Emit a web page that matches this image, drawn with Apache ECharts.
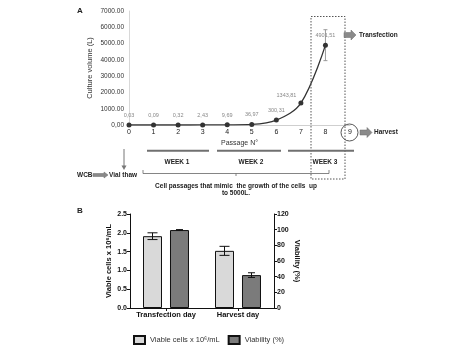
<!DOCTYPE html>
<html><head><meta charset="utf-8">
<script src="https://cdn.jsdelivr.net/npm/echarts@6/dist/echarts.min.js"></script>
<style>html,body{margin:0;padding:0;background:#fff}#c{width:474px;height:349px}</style>
</head><body><div id="c"></div>
<script>
// ---- Data ----
const passages = ['0','1','2','3','4','5','6','7','8','9'];
const cultureVolume = [0.03, 0.09, 0.32, 2.43, 9.69, 36.97, 300.31, 1343.81, 4901.51];
const cultureVolumeErr = [null, null, null, null, null, null, null, null, 950];
const dayCategories = ['Transfection day', 'Harvest day'];
const viableCells = [1.91, 1.52];
const viableCellsErr = [0.09, 0.12];
const viability = [99.5, 42];
const viabilityErr = [0.6, 3];
const seriesNames = ['Viable cells x 10\u2076/mL', 'Viability (%)'];

const FONT = 'Liberation Sans, Arial, sans-serif';
const chart = echarts.init(document.getElementById('c'), null, {renderer: 'canvas'});

const fmtComma = v => v.toFixed(2).replace('.', ',');
const BAR_W = 19, BAR_GAP = 0.42;

function errBarRenderer(sign, capW, color) {
  return function (params, api) {
    const i = api.value(0), v = api.value(1), e = api.value(2);
    if (e == null || isNaN(e)) return;
    const off = sign * (BAR_W + BAR_W * BAR_GAP) / 2;
    const top = api.coord([i, v + e]);
    const bot = api.coord([i, v - e]);
    const x = top[0] + off;
    const st = {stroke: color, lineWidth: 1};
    return {type: 'group', children: [
      {type: 'line', shape: {x1: x, y1: top[1], x2: x, y2: bot[1]}, style: st},
      {type: 'line', shape: {x1: x - capW / 2, y1: top[1], x2: x + capW / 2, y2: top[1]}, style: st},
      {type: 'line', shape: {x1: x - capW / 2, y1: bot[1], x2: x + capW / 2, y2: bot[1]}, style: st}
    ]};
  };
}

function blockArrow(x0, x1, y, shaftH, headH, headL) {
  return {type: 'polygon', shape: {points: [
    [x0, y - shaftH / 2], [x1 - headL, y - shaftH / 2], [x1 - headL, y - headH / 2], [x1, y],
    [x1 - headL, y + headH / 2], [x1 - headL, y + shaftH / 2], [x0, y + shaftH / 2]]},
    style: {fill: '#8a8a8a', stroke: '#6a6a6a', lineWidth: 0.5}, z: 10};
}
function txt(text, x, y, size, weight, align, color) {
  return {type: 'text', z: 10, style: {text: text, x: x, y: y, fill: color || '#222',
    font: (weight || 'normal') + ' ' + size + 'px ' + FONT, textAlign: align || 'center', textVerticalAlign: 'middle'}};
}
function ln(x1, y1, x2, y2, w, c, dash) {
  return {type: 'line', z: 10, shape: {x1, y1, x2, y2}, style: {stroke: c || '#666', lineWidth: w || 1, lineDash: dash || null}};
}

const lineData = cultureVolume.map((v, i) => {
  const d = {value: v};
  if (i === 7) d.label = {position: 'left', offset: [2, -8]};
  return d;
});

const option = {
  animation: false,
  textStyle: {fontFamily: FONT},
  grid: [
    {left: 129, right: 124, top: 11, height: 114},
    {left: 130, right: 200, top: 214, height: 94}
  ],
  xAxis: [
    {gridIndex: 0, type: 'category', data: passages, boundaryGap: false,
     axisLine: {lineStyle: {color: '#cfcfcf', width: 1}}, axisTick: {show: false},
     axisLabel: {fontSize: 7, color: '#222', margin: 4, interval: 0},
     name: 'Passage N\u00b0', nameLocation: 'middle', nameGap: 15,
     nameTextStyle: {fontSize: 7, color: '#333'}},
    {gridIndex: 1, type: 'category', data: dayCategories,
     axisLine: {lineStyle: {color: '#111', width: 1}},
     axisTick: {show: true, alignWithLabel: true, length: 3, lineStyle: {color: '#111'}},
     axisLabel: {fontSize: 7.5, fontWeight: 'bold', color: '#111', margin: 3, interval: 0, hideOverlap: false}}
  ],
  yAxis: [
    {gridIndex: 0, type: 'value', min: 0, max: 7000, interval: 1000,
     axisLine: {show: true, lineStyle: {color: '#d8d8d8'}}, axisTick: {show: false},
     splitLine: {show: false},
     axisLabel: {fontSize: 6.5, color: '#333', margin: 5,
       formatter: v => v === 0 ? '0,00' : v.toFixed(2)},
     name: 'Culture volume (L)', nameLocation: 'middle', nameGap: 35,
     nameTextStyle: {fontSize: 7.5, color: '#333'}},
    {gridIndex: 1, type: 'value', min: 0, max: 2.5, interval: 0.5,
     axisLine: {show: true, lineStyle: {color: '#111'}},
     axisTick: {show: true, length: 3, lineStyle: {color: '#111'}},
     splitLine: {show: false},
     axisLabel: {fontSize: 7, fontWeight: 'bold', color: '#111', margin: 3, formatter: v => v.toFixed(1)},
     name: 'Viable cells x 10\u2076/mL', nameLocation: 'middle', nameGap: 17,
     nameTextStyle: {fontSize: 7.5, fontWeight: 'bold', color: '#111'}},
    {gridIndex: 1, type: 'value', position: 'right', min: 0, max: 120, interval: 20,
     axisLine: {show: true, lineStyle: {color: '#111'}},
     axisTick: {show: true, length: 3, lineStyle: {color: '#111'}},
     splitLine: {show: false},
     axisLabel: {fontSize: 7, fontWeight: 'bold', color: '#111', margin: 3},
     name: 'Viability (%)', nameLocation: 'middle', nameGap: 18, nameRotate: -90,
     nameTextStyle: {fontSize: 7.5, fontWeight: 'bold', color: '#111'}}
  ],
  legend: {
    data: seriesNames, left: 128, top: 330, itemWidth: 11, itemHeight: 8, itemGap: 8,
    textStyle: {fontSize: 7.5, color: '#333'}, icon: 'rect'
  },
  series: [
    {type: 'line', xAxisIndex: 0, yAxisIndex: 0, data: lineData, smooth: 0.35,
     symbol: 'circle', symbolSize: 5, itemStyle: {color: '#333'},
     lineStyle: {color: '#333', width: 1.3},
     label: {show: true, position: 'top', distance: 4, fontSize: 5.5, color: '#888', formatter: p => fmtComma(p.value)}},
    {type: 'custom', xAxisIndex: 0, yAxisIndex: 0,
     data: cultureVolume.map((v, i) => [i, v, cultureVolumeErr[i]]).filter(d => d[2] != null),
     renderItem: errBarRenderer(0, 4, '#999'), z: 1},
    {name: seriesNames[0], type: 'bar', xAxisIndex: 1, yAxisIndex: 1, data: viableCells,
     barWidth: BAR_W, barGap: (BAR_GAP * 100) + '%',
     itemStyle: {color: '#d9d9d9', borderColor: '#111', borderWidth: 1}},
    {name: seriesNames[1], type: 'bar', xAxisIndex: 1, yAxisIndex: 2, data: viability,
     barWidth: BAR_W, barGap: (BAR_GAP * 100) + '%',
     itemStyle: {color: '#7b7b7b', borderColor: '#111', borderWidth: 1}},
    {type: 'custom', xAxisIndex: 1, yAxisIndex: 1, z: 5,
     data: viableCells.map((v, i) => [i, v, viableCellsErr[i]]),
     renderItem: errBarRenderer(-1, 10, '#111')},
    {type: 'custom', xAxisIndex: 1, yAxisIndex: 2, z: 5,
     data: viability.map((v, i) => [i, v, viabilityErr[i]]),
     renderItem: errBarRenderer(1, 7, '#111')}
  ],
  graphic: [
    txt('A', 80, 11, 8, 'bold'),
    txt('B', 80, 211, 8, 'bold'),
    {type: 'rect', z: 10, shape: {x: 311, y: 16.5, width: 34, height: 162.5},
     style: {fill: 'none', stroke: '#555', lineWidth: 1, lineDash: [1.5, 1.5]}},
    {type: 'circle', z: 10, shape: {cx: 349.5, cy: 132.5, r: 8.5},
     style: {fill: 'none', stroke: '#444', lineWidth: 0.9}},
    blockArrow(344, 356, 35, 5, 10, 5),
    txt('Transfection', 359, 35, 6.5, 'bold', 'left'),
    blockArrow(360, 372, 132.5, 5, 10, 5),
    txt('Harvest', 374, 132.5, 6.5, 'bold', 'left'),
    ln(147, 150.7, 209, 150.7, 2, '#707070'),
    ln(217, 150.7, 281, 150.7, 2, '#707070'),
    ln(288, 150.7, 354, 150.7, 2, '#707070'),
    txt('WEEK 1', 177, 162, 6.5, 'bold'),
    txt('WEEK 2', 251, 162, 6.5, 'bold'),
    txt('WEEK 3', 325, 162, 6.5, 'bold'),
    ln(124, 149, 124, 166, 1, '#777'),
    {type: 'polygon', z: 10, shape: {points: [[121.5, 165.5], [126.5, 165.5], [124, 170]]}, style: {fill: '#777'}},
    txt('WCB', 77, 175, 6.5, 'bold', 'left'),
    blockArrow(93, 108, 175, 3, 6, 4),
    txt('Vial thaw', 109, 175, 6.5, 'bold', 'left'),
    {type: 'polyline', z: 10, shape: {points: [[143, 170], [143, 173.5], [329, 173.5], [329, 170]]},
     style: {stroke: '#666', lineWidth: 0.8, fill: 'none'}},
    ln(236, 173.5, 236, 176, 0.8, '#666'),
    txt('Cell passages that mimic  the growth of the cells  up', 236, 186, 6.5, 'bold'),
    txt('to 5000L.', 236, 193.5, 6.5, 'bold')
  ]
};
chart.setOption(option);
</script></body></html>
